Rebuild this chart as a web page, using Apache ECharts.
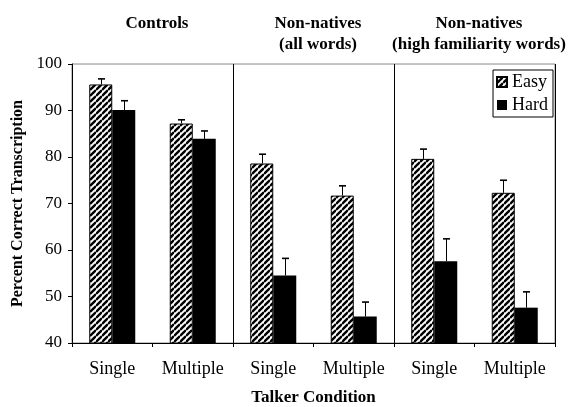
<!DOCTYPE html>
<html>
<head>
<meta charset="utf-8">
<script src="https://cdn.jsdelivr.net/npm/echarts@6/dist/echarts.min.js"></script>
<style>
  html, body { margin: 0; padding: 0; background: #fff; }
  #chart { width: 568px; height: 407px; }
</style>
</head>
<body>
<div id="chart"></div>
<script>
  // data
  const categories = ["Single", "Multiple", "Single", "Multiple", "Single", "Multiple"];
  const panelTitles = ["Controls", "Non-natives\n(all words)", "Non-natives\n(high familiarity words)"];
  const easyValues = [95.6, 87.2, 78.6, 71.7, 79.6, 72.3];
  const easyErrTop = [96.8, 88.0, 80.6, 73.8, 81.7, 75.0];
  const hardValues = [90.1, 83.9, 54.5, 45.7, 57.6, 47.6];
  const hardErrTop = [92.1, 85.6, 58.2, 48.8, 62.4, 51.0];
  const yTicks = [40, 50, 60, 70, 80, 90, 100];

  const serif = "'Liberation Serif', 'Times New Roman', serif";
  const barW = 23;

  // hatch pattern for the Easy bars
  function hatch() {
    const s = 6;
    const c = document.createElement("canvas");
    c.width = s; c.height = s;
    const ctx = c.getContext("2d");
    ctx.fillStyle = "#fff";
    ctx.fillRect(0, 0, s, s);
    ctx.strokeStyle = "#000";
    ctx.lineWidth = 2.4;
    for (let k = -1; k <= 1; k++) {
      ctx.beginPath();
      ctx.moveTo(0, s + k * s);
      ctx.lineTo(s, k * s);
      ctx.stroke();
    }
    return c;
  }
  const hatchFill = { image: hatch(), repeat: "repeat" };

  function errSeries(name, values, tops, offset) {
    return {
      type: "custom",
      name: name + " err",
      silent: true,
      z: 1,
      data: values.map((v, i) => [i, v, tops[i]]),
      renderItem: function (params, api) {
        const lo = api.coord([api.value(0), api.value(1)]);
        const hi = api.coord([api.value(0), api.value(2)]);
        const x = Math.round(lo[0] + offset) + 0.5;
        return {
          type: "group",
          children: [
            { type: "line", shape: { x1: x, y1: lo[1], x2: x, y2: hi[1] }, style: { stroke: "#000", lineWidth: 1 } },
            { type: "line", shape: { x1: x - 3.5, y1: hi[1], x2: x + 3.5, y2: hi[1] }, style: { stroke: "#000", lineWidth: 1.6 } }
          ]
        };
      }
    };
  }

  const chart = echarts.init(document.getElementById("chart"));
  chart.setOption({
    animation: false,
    title: panelTitles.map((t, i) => ({
      text: t,
      left: 152 + i * 161,
      top: 8,
      textAlign: "center",
      textStyle: { fontFamily: serif, fontSize: 17, fontWeight: "bold", color: "#000", lineHeight: 21 }
    })),
    legend: {
      orient: "vertical",
      right: 15,
      top: 70,
      data: ["Easy", "Hard"],
      itemWidth: 10,
      itemHeight: 10,
      itemGap: 5,
      padding: [3, 5, 3, 3],
      borderColor: "#000",
      borderWidth: 1,
      icon: "rect",
      textStyle: { fontFamily: serif, fontSize: 18, color: "#000" }
    },
    grid: {
      left: 72, right: 13, top: 64, bottom: 64,
      outerBoundsMode: "none",
      show: true, borderColor: "#888", borderWidth: 1
    },
    xAxis: {
      type: "category",
      data: categories,
      name: "Talker Condition",
      nameLocation: "middle",
      nameGap: 46,
      nameTextStyle: { fontFamily: serif, fontSize: 17, fontWeight: "bold", color: "#000" },
      axisLine: { lineStyle: { color: "#000" } },
      axisTick: { show: true, length: 4, lineStyle: { color: "#000" } },
      axisLabel: { interval: 0, fontFamily: serif, fontSize: 18, color: "#000", margin: 17 },
      splitLine: {
        show: true,
        interval: function (i) { return i === 2 || i === 4; },
        lineStyle: { color: "#000", width: 1 }
      }
    },
    yAxis: {
      type: "value",
      min: yTicks[0],
      max: yTicks[yTicks.length - 1],
      interval: 10,
      name: "Percent Correct Transcription",
      nameLocation: "middle",
      nameGap: 40,
      nameTextStyle: { fontFamily: serif, fontSize: 16, fontWeight: "bold", color: "#000" },
      axisLine: { show: true, lineStyle: { color: "#000" } },
      axisTick: { show: true, length: 4, lineStyle: { color: "#000" } },
      axisLabel: { fontFamily: serif, fontSize: 17, color: "#000", margin: 10 },
      splitLine: { show: false }
    },
    series: [
      {
        type: "bar",
        name: "Easy",
        data: easyValues,
        barWidth: barW,
        barGap: "0%",
        z: 2,
        itemStyle: { color: hatchFill, borderColor: "#000", borderWidth: 1 }
      },
      {
        type: "bar",
        name: "Hard",
        data: hardValues,
        barWidth: barW,
        z: 2,
        itemStyle: { color: "#000" }
      },
      errSeries("Easy", easyValues, easyErrTop, -barW / 2),
      errSeries("Hard", hardValues, hardErrTop, barW / 2)
    ]
  });
</script>
</body>
</html>
